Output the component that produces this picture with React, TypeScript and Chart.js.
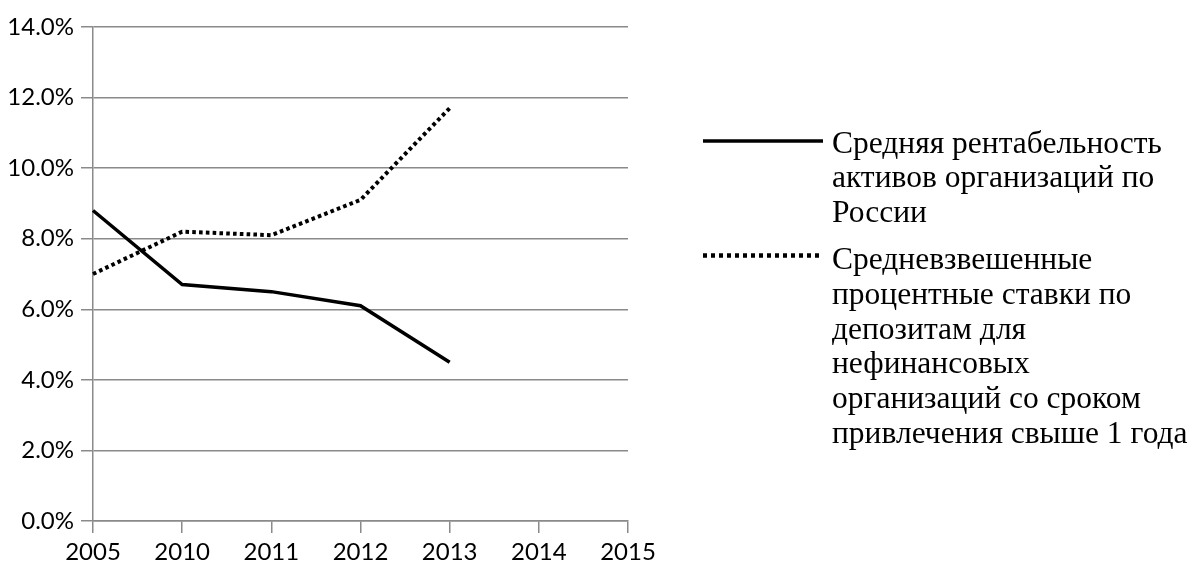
import React, { useEffect, useRef } from 'react';
import { Chart, registerables } from 'chart.js';

Chart.register(...registerables);

const categories: string[] = ['2005', '2010', '2011', '2012', '2013', '2014', '2015'];
const profitability: (number | null)[] = [8.8, 6.7, 6.5, 6.1, 4.5, null, null];
const depositRates: (number | null)[] = [7.0, 8.2, 8.1, 9.1, 11.7, null, null];

const profitabilityLabel: string[] = ['Средняя рентабельность', 'активов организаций по', 'России'];
const depositRatesLabel: string[] = [
  'Средневзвешенные',
  'процентные ставки по',
  'депозитам для',
  'нефинансовых',
  'организаций со сроком',
  'привлечения свыше 1 года',
];

const Y_MIN = 0;
const Y_MAX = 14;
const Y_STEP = 2;

const GRID = '#8a8a8a';
const TICK_FONT = { family: 'Lato, "Open Sans", sans-serif', size: 24 };

const legendPlugin = {
  id: 'sideLegend',
  afterDraw(chart: any) {
    const ctx = chart.ctx;
    const lineH = 34.8;
    const textX = 832;
    const blocks = [
      { lines: profitabilityLabel, base: 152.5, lineY: 141, dash: [] as number[], w: 3.5 },
      { lines: depositRatesLabel, base: 269, lineY: 255.5, dash: [4, 4], w: 4.5 },
    ];
    ctx.save();
    ctx.font = '31.5px "Liberation Serif", "Times New Roman", serif';
    ctx.fillStyle = '#000';
    ctx.textAlign = 'left';
    ctx.textBaseline = 'alphabetic';
    for (const b of blocks) {
      ctx.beginPath();
      ctx.setLineDash(b.dash);
      ctx.lineWidth = b.w;
      ctx.lineCap = 'butt';
      ctx.strokeStyle = '#000';
      ctx.moveTo(703, b.lineY);
      ctx.lineTo(823, b.lineY);
      ctx.stroke();
      ctx.setLineDash([]);
      b.lines.forEach((t, i) => ctx.fillText(t, textX, b.base + i * lineH));
    }
    ctx.restore();
  },
};

export default function App() {
  const ref = useRef<HTMLCanvasElement | null>(null);

  useEffect(() => {
    if (!ref.current) return;
    const chart = new Chart(ref.current, {
      type: 'line',
      data: {
        labels: categories,
        datasets: [
          {
            label: profitabilityLabel.join(' '),
            data: profitability,
            borderColor: '#000',
            borderWidth: 3.5,
            pointRadius: 0,
            tension: 0,
            fill: false,
          },
          {
            label: depositRatesLabel.join(' '),
            data: depositRates,
            borderColor: '#000',
            borderWidth: 4,
            borderDash: [3.6, 3.2],
            borderCapStyle: 'butt',
            pointRadius: 0,
            tension: 0,
            fill: false,
          },
        ],
      },
      options: {
        animation: false,
        responsive: false,
        devicePixelRatio: 1,
        layout: { padding: { top: 27, right: 566, left: 0, bottom: 0 } },
        plugins: {
          legend: { display: false },
          tooltip: { enabled: false },
        },
        scales: {
          x: {
            type: 'category',
            offset: false,
            grid: {
              display: true,
              drawOnChartArea: false,
              drawTicks: true,
              tickLength: 12,
              color: GRID,
              lineWidth: 1.5,
            },
            border: { display: true, color: GRID, width: 1.5 },
            ticks: {
              padding: 5,
              color: '#000',
              font: TICK_FONT,
              maxRotation: 0,
              autoSkip: false,
            },
            afterFit(scale: any) {
              scale.height = 41;
            },
          },
          y: {
            min: Y_MIN,
            max: Y_MAX,
            grid: {
              display: true,
              drawOnChartArea: true,
              drawTicks: true,
              tickLength: 12,
              color: GRID,
              lineWidth: 1.5,
            },
            border: { display: true, color: GRID, width: 1.5 },
            ticks: {
              stepSize: Y_STEP,
              padding: 7,
              color: '#000',
              font: TICK_FONT,
              callback: (v: any) => Number(v).toFixed(1) + '%',
            },
            afterFit(scale: any) {
              scale.width = 93;
            },
          },
        },
      },
      plugins: [legendPlugin],
    });
    return () => chart.destroy();
  }, []);

  return (
    <div style={{ position: 'absolute', left: 0, top: 0, width: 1194, height: 562, background: '#fff' }}>
      <canvas ref={ref} width={1194} height={562} style={{ display: 'block' }} />
    </div>
  );
}
